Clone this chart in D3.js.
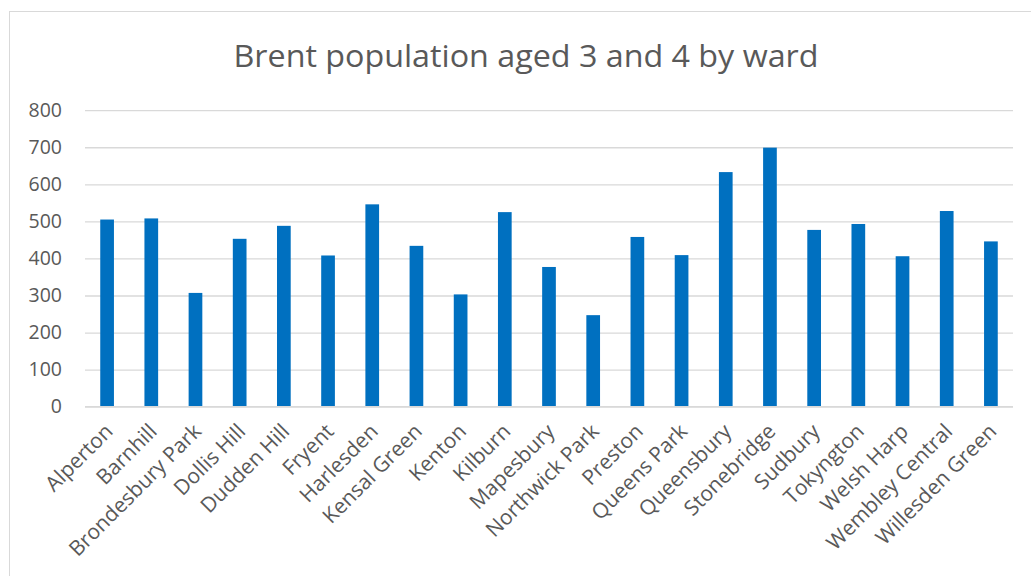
<!DOCTYPE html>
<html><head><meta charset="utf-8">
<script src="https://cdn.jsdelivr.net/npm/d3@7"></script>
<style>body{margin:0;background:#fff}svg{display:block}</style>
</head><body><svg id="c" width="1031" height="576"></svg>
<script>
const categories = ["Alperton","Barnhill","Brondesbury Park","Dollis Hill","Dudden Hill","Fryent","Harlesden","Kensal Green","Kenton","Kilburn","Mapesbury","Northwick Park","Preston","Queens Park","Queensbury","Stonebridge","Sudbury","Tokyngton","Welsh Harp","Wembley Central","Willesden Green"];
const values = [505,508,307,453,488,408,546,434,303,525,377,247,458,409,633,699,477,493,406,528,446];
const yTicks = [0,100,200,300,400,500,600,700,800];
const title = "Brent population aged 3 and 4 by ward";

const svg = d3.select("#c");
const font = "'Open Sans', sans-serif";
const col = "#595959";
svg.append("rect").attr("x",9.5).attr("y",11.5).attr("width",1100).attr("height",700)
  .attr("fill","#fff").attr("stroke","#d9d9d9").attr("stroke-width",1);

const x = d3.scaleBand().domain(categories).range([85,1013]).paddingInner(0.69).paddingOuter(0.345);
const y = d3.scaleLinear().domain([0,800]).range([406.7,110.2]);

svg.append("text").attr("x",526).attr("y",66.5).attr("text-anchor","middle")
  .attr("font-family",font).attr("font-size",31).attr("fill",col)
  .attr("textLength",585).attr("lengthAdjust","spacingAndGlyphs").text(title);

const gy = svg.append("g").attr("transform","translate(85,0)")
  .call(d3.axisLeft(y).tickValues(yTicks).tickSize(-928).tickPadding(23));
gy.select(".domain").remove();
gy.selectAll(".tick line").attr("stroke","#d9d9d9").attr("stroke-width",1.3);
gy.selectAll(".tick text").attr("font-family",font).attr("font-size",19.5).attr("fill",col);

svg.append("g").selectAll("rect").data(values).join("rect")
  .attr("x",(d,i)=>x(categories[i])).attr("width",x.bandwidth())
  .attr("y",d=>y(d)).attr("height",d=>y(0)-y(d)).attr("fill","#0070c0");

svg.append("line").attr("x1",85).attr("x2",1013).attr("y1",y(0)).attr("y2",y(0))
  .attr("stroke","#d9d9d9").attr("stroke-width",1.3);

const gx = svg.append("g").attr("transform",`translate(0,${y(0)})`)
  .call(d3.axisBottom(x).tickSize(0).tickPadding(0));
gx.select(".domain").remove();
gx.selectAll(".tick text").attr("font-family",font).attr("font-size",21).attr("fill",col)
  .attr("text-anchor","end").attr("dy",0)
  .attr("transform","translate(7,26) rotate(-45)");
</script></body></html>
